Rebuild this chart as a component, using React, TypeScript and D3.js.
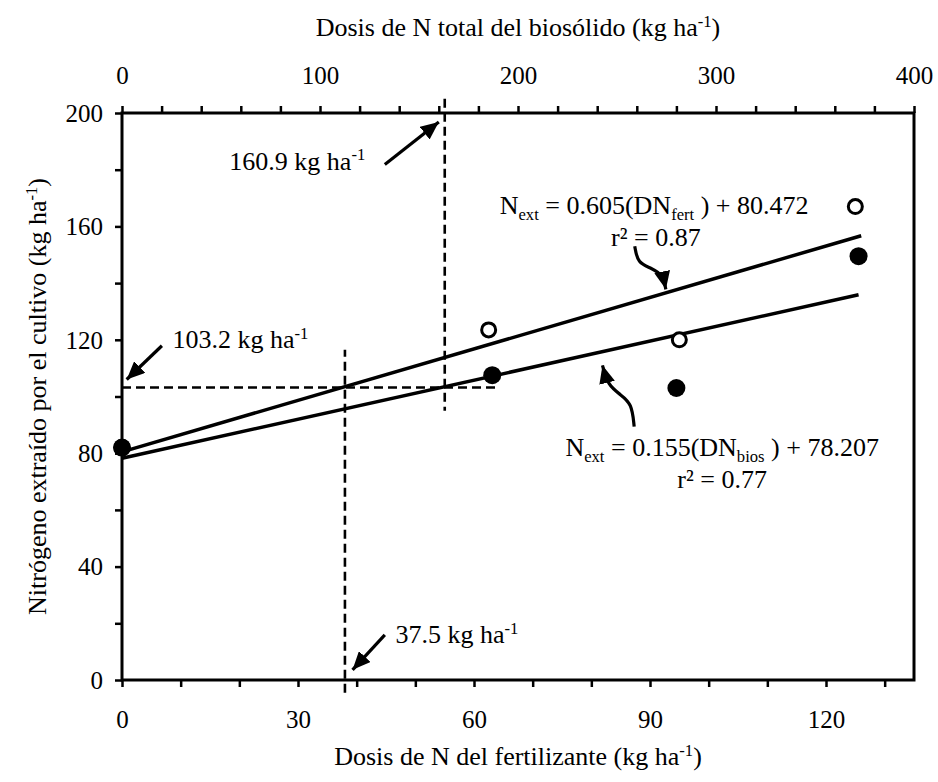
import React, { useEffect, useRef } from "react";
import * as d3 from "d3";

const width = 938;
const height = 782;
const margin = { top: 113, right: 24, bottom: 102, left: 122 };
const font = "'Liberation Serif', 'Times New Roman', Times, serif";

// fertilizer: open circles, read on the bottom axis
const fertDose = [0, 62.5, 95, 125];
const fertN = [82, 123.5, 120, 167];
// biosolid: filled circles, read on the top axis
const biosDose = [0, 187, 280, 372];
const biosN = [82, 107.5, 103, 149.5];

const fertFit = { slope: 0.605, intercept: 80.472, xMax: 126 };
const biosFit = { slope: 0.155, intercept: 78.207, xMax: 372 };

const bottomTicks = d3.range(0, 131, 10);
const bottomLabels = [0, 30, 60, 90, 120];
const topTicks = d3.range(0, 401, 20);
const topLabels = [0, 100, 200, 300, 400];
const leftTicks = d3.range(0, 201, 20);
const leftLabels = [0, 40, 80, 120, 160, 200];

// reference lines (N extracted 103.2, doses 37.5 fert / 160.9 bios)
const refN = 103.2;
const refFert = 38;
const refBios = 163;

type Part = [string, string?];

function rich(g: any, x: number, y: number, parts: Part[], size: number, anchor = "start") {
  const t = g.append("text")
    .attr("x", x).attr("y", y)
    .attr("text-anchor", anchor)
    .attr("font-size", size)
    .style("white-space", "pre");
  let shift = 0;
  parts.forEach(([s, k]) => {
    const target = k === "sup" ? -size * 0.36 : k === "sub" ? size * 0.22 : 0;
    const fs = k ? size * 0.64 : size;
    t.append("tspan").attr("dy", target - shift).attr("font-size", fs).text(s);
    shift = target;
  });
  return t;
}

function App() {
  const ref = useRef<SVGSVGElement>(null);

  useEffect(() => {
    const svg = d3.select(ref.current);
    svg.selectAll("*").remove();

    const x = d3.scaleLinear().domain([0, 135]).range([margin.left, width - margin.right]);
    const xTop = d3.scaleLinear().domain([0, 400]).range([margin.left, width - margin.right]);
    const y = d3.scaleLinear().domain([0, 200]).range([height - margin.bottom, margin.top]);

    const defs = svg.append("defs");
    defs.append("marker")
      .attr("id", "arrow")
      .attr("markerUnits", "userSpaceOnUse")
      .attr("markerWidth", 20).attr("markerHeight", 16)
      .attr("refX", 18).attr("refY", 8)
      .attr("orient", "auto")
      .append("path").attr("d", "M0,0 L18,8 L0,16 Z").attr("fill", "#000");

    const root = svg.append("g").attr("font-family", font).attr("fill", "#000");

    // axes
    const styleAxis = (g: any) => {
      g.select(".domain").remove();
      g.selectAll(".tick line").attr("stroke", "#000").attr("stroke-width", 2.5);
      g.selectAll(".tick text").attr("font-family", font).attr("font-size", 25).attr("fill", "#000");
    };
    root.append("g")
      .attr("transform", `translate(0,${height - margin.bottom})`)
      .call(d3.axisBottom(x).tickValues(bottomTicks).tickSize(7).tickSizeOuter(0)
        .tickFormat((d: any) => (bottomLabels.includes(d) ? String(d) : "")))
      .call(styleAxis)
      .call((g: any) => g.selectAll(".tick text").attr("y", 48).attr("dy", null));

    root.append("g")
      .attr("transform", `translate(0,${margin.top})`)
      .call(d3.axisTop(xTop).tickValues(topTicks).tickSize(7).tickSizeOuter(0)
        .tickFormat((d: any) => (topLabels.includes(d) ? String(d) : "")))
      .call(styleAxis)
      .call((g: any) => g.selectAll(".tick text").attr("y", -29).attr("dy", null));

    root.append("g")
      .attr("transform", `translate(${margin.left},0)`)
      .call(d3.axisLeft(y).tickValues(leftTicks).tickSize(7).tickSizeOuter(0)
        .tickFormat((d: any) => (leftLabels.includes(d) ? String(d) : "")))
      .call(styleAxis)
      .call((g: any) => g.selectAll(".tick text").attr("x", -19).attr("dy", "0.33em"));

    // dashed reference lines
    const dashed = root.append("g")
      .attr("stroke", "#000").attr("stroke-width", 2.6)
      .attr("stroke-dasharray", "9,5").attr("fill", "none");
    dashed.append("line")
      .attr("x1", x(0)).attr("x2", x(64))
      .attr("y1", y(refN)).attr("y2", y(refN));
    dashed.append("line")
      .attr("x1", x(refFert)).attr("x2", x(refFert))
      .attr("y1", y(-4.5)).attr("y2", y(116.5));
    dashed.append("line")
      .attr("x1", xTop(refBios)).attr("x2", xTop(refBios))
      .attr("y1", y(205)).attr("y2", y(95));

    // regression lines
    const fits = root.append("g").attr("stroke", "#000").attr("stroke-width", 3.5);
    fits.append("line")
      .attr("x1", x(0)).attr("y1", y(fertFit.intercept))
      .attr("x2", x(fertFit.xMax)).attr("y2", y(fertFit.intercept + fertFit.slope * fertFit.xMax));
    fits.append("line")
      .attr("x1", xTop(0)).attr("y1", y(biosFit.intercept))
      .attr("x2", xTop(biosFit.xMax)).attr("y2", y(biosFit.intercept + biosFit.slope * biosFit.xMax));

    // points
    root.append("g").selectAll("circle")
      .data(d3.zip(fertDose, fertN))
      .join("circle")
      .attr("cx", (d: any) => x(d[0])).attr("cy", (d: any) => y(d[1]))
      .attr("r", 7).attr("fill", "#fff").attr("stroke", "#000").attr("stroke-width", 3);
    root.append("g").selectAll("circle")
      .data(d3.zip(biosDose, biosN))
      .join("circle")
      .attr("cx", (d: any) => xTop(d[0])).attr("cy", (d: any) => y(d[1]))
      .attr("r", 9).attr("fill", "#000");

    // frame
    root.append("rect")
      .attr("x", margin.left).attr("y", margin.top)
      .attr("width", width - margin.left - margin.right)
      .attr("height", height - margin.top - margin.bottom)
      .attr("fill", "none").attr("stroke", "#000").attr("stroke-width", 3);

    // arrows (anchored in bottom-axis / N units)
    const arrow = d3.line<[number, number]>().x(d => x(d[0])).y(d => y(d[1]));
    const curved = d3.line<[number, number]>().x(d => x(d[0])).y(d => y(d[1])).curve(d3.curveBasis);
    const arrows = root.append("g").attr("stroke", "#000").attr("stroke-width", 3.2).attr("fill", "none");
    const straight: [number, number][][] = [
      [[44.8, 181.8], [54.0, 196.8]],
      [[6.8, 117.9], [0.8, 106.0]],
      [[44.8, 15.9], [39.3, 3.6]],
    ];
    straight.forEach(p => arrows.append("path").attr("d", arrow(p)).attr("marker-end", "url(#arrow)"));
    const bent: [number, number][][] = [
      [[87.4, 153.0], [87.9, 147.0], [90.3, 145.3], [92.2, 142.8], [92.7, 137.8]],
      [[87.3, 89.4], [86.9, 97.5], [85.0, 100.6], [82.8, 104.0], [81.9, 111.0]],
    ];
    bent.forEach(p => arrows.append("path").attr("d", curved(p)).attr("marker-end", "url(#arrow)"));

    // annotation texts
    const size = 26;
    rich(root, x(18.3), y(180.0), [["160.9 kg ha"], ["-1", "sup"]], size);
    rich(root, x(8.6), y(117.0), [["103.2 kg ha"], ["-1", "sup"]], size);
    rich(root, x(46.6), y(13.1), [["37.5 kg ha"], ["-1", "sup"]], size);

    rich(root, x(90.7), y(164.4),
      [["N"], ["ext", "sub"], [" = 0.605(DN"], ["fert", "sub"], [" ) + 80.472"]], size, "middle");
    rich(root, x(91.0), y(153.0), [["r² = 0.87"]], size, "middle");
    rich(root, x(102.3), y(79.0),
      [["N"], ["ext", "sub"], [" = 0.155(DN"], ["bios", "sub"], [" ) + 78.207"]], size, "middle");
    rich(root, x(102.3), y(67.6), [["r² = 0.77"]], size, "middle");

    // axis titles
    const cx = (margin.left + width - margin.right) / 2;
    rich(root, cx, 765, [["Dosis de N del fertilizante (kg ha"], ["-1", "sup"], [")"]], size, "middle");
    rich(root, cx, 36, [["Dosis de N total del biosólido (kg ha"], ["-1", "sup"], [")"]], size, "middle");
    const yt = root.append("g")
      .attr("transform", `translate(46,${(margin.top + height - margin.bottom) / 2}) rotate(-90)`);
    rich(yt, 0, 0, [["Nitrógeno extraído por el cultivo (kg ha"], ["-1", "sup"], [")"]], size, "middle");
  }, []);

  return (
    <svg ref={ref} width={width} height={height}
      style={{ position: "absolute", left: 0, top: 0, background: "#fff" }} />
  );
}

export default App;
